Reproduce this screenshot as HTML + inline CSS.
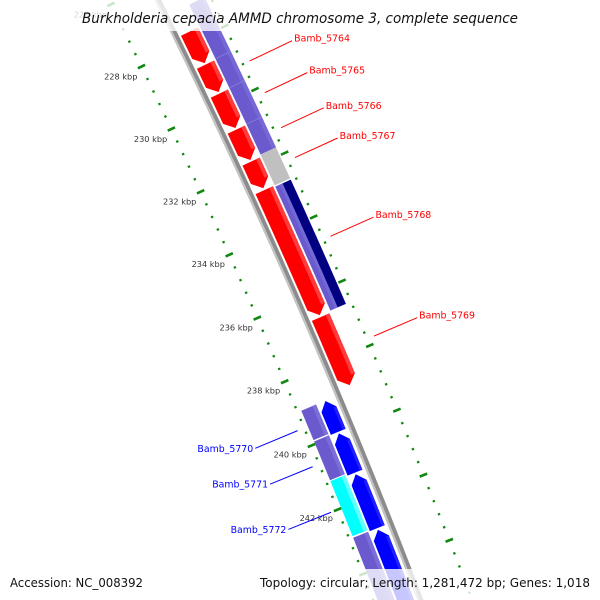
<!DOCTYPE html>
<html><head><meta charset="utf-8"><style>
html,body{margin:0;padding:0;background:#fff;width:600px;height:600px;overflow:hidden;}
svg{display:block;overflow:hidden;font-family:"DejaVu Sans","Liberation Sans",sans-serif;}
</style></head><body>
<svg id="map" width="600" height="600" viewBox="0 0 600 600" xmlns="http://www.w3.org/2000/svg">
<rect width="600" height="600" fill="#fff"/>
<g id="ticks"></g>
<g id="backbone"></g>
<g id="features"></g>
<g id="labels"></g>
<rect x="0" y="0" width="600" height="31" fill="#fff" fill-opacity="0.78"/>
<rect x="0" y="569" width="600" height="31" fill="#fff" fill-opacity="0.78"/>
<text x="82" y="23" font-size="14" font-style="italic" fill="#111" textLength="436" lengthAdjust="spacingAndGlyphs">Burkholderia cepacia AMMD chromosome 3, complete sequence</text>
<text x="10" y="587" font-size="12" fill="#111" textLength="133" lengthAdjust="spacingAndGlyphs">Accession: NC_008392</text>
<text x="260" y="587" font-size="12" fill="#111" textLength="330" lengthAdjust="spacingAndGlyphs">Topology: circular; Length: 1,281,472 bp; Genes: 1,018</text>
</svg>
<script>
// data
const tickLabelKbp=[226,228,230,232,234,236,238,240,242];
const fwdStart=[227.70,228.75,229.67,230.81,231.82,232.72,236.70];
const fwdEnd=[228.70,229.62,230.76,231.77,232.66,236.64,238.82];
const outer2Start=[227.0,231.75,232.76];
const outer2End=[231.75,232.72,236.64];
const outer2Type=['purple','gray','split'];
const outer2Seams=[228.72,229.64,230.79];
const revStart=[238.97,239.98,241.25,242.97];
const revEnd=[239.93,241.20,242.92,246.5];
const inner2Start=[238.96,239.92,241.16,242.92];
const inner2End=[239.88,241.13,242.87,246.5];
const inner2Color=['#6a5acd','#6a5acd','#00ffff','#6a5acd'];
const outerLabelNames=['Bamb_5764','Bamb_5765','Bamb_5766','Bamb_5767','Bamb_5768','Bamb_5769'];
const outerLabelKbp=[229.2,230.2,231.3,232.24,234.7,237.8];
const innerLabelNames=['Bamb_5770','Bamb_5771','Bamb_5772'];
const innerLabelKbp=[239.45,240.58,242.0];

const NS='http://www.w3.org/2000/svg';
const CX=-6212.5,CY=3144,R=7104,TH0=66.405,DEG=0.280930;
function pt(k,r){const t=(TH0+(k-236)*DEG)*Math.PI/180;return [CX+(R+r)*Math.sin(t),CY-(R+r)*Math.cos(t)];}
function mk(tag,attrs,parent){const e=document.createElementNS(NS,tag);for(const a in attrs)e.setAttribute(a,attrs[a]);parent.appendChild(e);return e;}
function arcPts(k0,k1,r){const n=Math.max(2,Math.ceil((k1-k0)/0.1));const a=[];for(let i=0;i<=n;i++)a.push(pt(k0+(k1-k0)*i/n,r));return a;}
function band(k0,k1,r0,r1){return arcPts(k0,k1,r1).concat(arcPts(k0,k1,r0).reverse());}
function ps(a){return a.map(p=>p[0].toFixed(2)+','+p[1].toFixed(2)).join(' ');}
const HEAD=0.26;
function fwdArrow(k0,k1,r0,r1){const rm=(r0+r1)/2;return arcPts(k0,k1-HEAD,r1).concat([pt(k1,rm)]).concat(arcPts(k0,k1-HEAD,r0).reverse());}
function revArrow(k0,k1,r0,r1){const rm=(r0+r1)/2;return [pt(k0,rm)].concat(arcPts(k0+HEAD,k1,r1)).concat(arcPts(k0+HEAD,k1,r0).reverse());}

// ticks
const tg=document.getElementById('ticks');
for(let i=0;i<=55;i++){
  const k=225.2+i*0.4;const kk=Math.round(k*10)/10;
  const major=Math.abs(kk/2-Math.round(kk/2))<0.01;
  [-44,48.5].forEach(rr=>{
    const h=major?4:1.2;const a=pt(kk,rr-h),b=pt(kk,rr+h);
    const l=mk('line',{x1:a[0],y1:a[1],x2:b[0],y2:b[1],stroke:'#118811','stroke-width':major?2.6:2.2},tg);
    
    
  });
}
tickLabelKbp.forEach(k=>{
  const p=pt(k,-67);
  const t=mk('text',{x:p[0],y:p[1]+3,'font-size':'8.2','text-anchor':'middle',fill:'#333'},tg);
  t.textContent=k+' kbp';
  
  
});

// backbone
const bg=document.getElementById('backbone');
const bb=mk('polygon',{points:ps(band(224,247,-3,3)),fill:'#8c8c8c'},bg);


const bb2=mk('polygon',{points:ps(band(224,247,-3,-0.8)),fill:'#c4c4c4'},bg);



// features
const fg=document.getElementById('features');
function poly(pts,fill,name){const e=mk('polygon',{points:ps(pts),fill:fill},fg);return e;}
for(let i=0;i<outer2Start.length;i++){
  const k0=outer2Start[i],k1=outer2End[i];
  if(outer2Type[i]==='purple'){poly(band(k0,k1,26,43),'#6a5acd','outer-feature');poly(band(k0,k1,39,43),'#7569d6','outer-feature-highlight');}
  else if(outer2Type[i]==='gray'){poly(band(k0,k1,26,43),'#c0c0c0','outer-feature-gray');}
  else{poly(band(k0,k1,26,34),'#6a5acd','outer-feature-purple');poly(band(k0,k1,31,34),'#7569d6','outer-feature-highlight');poly(band(k0,k1,34,43),'#000080','outer-feature-navy');}
}
outer2Seams.forEach(k=>{const a=pt(k,26),b=pt(k,43);const l=mk('line',{x1:a[0],y1:a[1],x2:b[0],y2:b[1],stroke:'#8a80d8','stroke-width':0.8},fg);
  
  });
for(let i=0;i<fwdStart.length;i++){
  poly(fwdArrow(fwdStart[i],fwdEnd[i],5,24),'#ff0000','forward-gene-'+(5763+i));
  poly(band(fwdStart[i],fwdEnd[i]-HEAD,20,24),'#ff3c3c','forward-gene-highlight');
}
for(let i=0;i<revStart.length;i++){
  poly(revArrow(revStart[i],revEnd[i],-22,-6),'#0000ff','reverse-gene');
  poly(band(revStart[i]+HEAD,revEnd[i],-9,-6),'#2020ff','reverse-gene-highlight');
}
for(let i=0;i<inner2Start.length;i++){
  poly(band(inner2Start[i],inner2End[i],-40,-24),inner2Color[i],'inner-feature');
  poly(band(inner2Start[i],inner2End[i],-28,-24),inner2Color[i]==='#00ffff'?'#5fffff':'#7a6ed8','inner-feature-highlight');
}

// labels
const lg=document.getElementById('labels');
outerLabelNames.forEach((n,i)=>{
  const a=pt(outerLabelKbp[i],56),b=pt(outerLabelKbp[i],103);
  const l=mk('line',{x1:a[0],y1:a[1],x2:b[0],y2:b[1],stroke:'#ff0000','stroke-width':1},lg);
  
  
  const t=mk('text',{x:b[0]+2,y:b[1]+1,'font-size':'9.4',fill:'#ff0000'},lg);
  t.textContent=n;
  
  
});
innerLabelNames.forEach((n,i)=>{
  const a=pt(innerLabelKbp[i],-51),b=pt(innerLabelKbp[i],-97);
  const l=mk('line',{x1:a[0],y1:a[1],x2:b[0],y2:b[1],stroke:'#0000ff','stroke-width':1},lg);
  
  
  const t=mk('text',{x:b[0]-2,y:b[1]+3.5,'font-size':'9.4','text-anchor':'end',fill:'#0000ff'},lg);
  t.textContent=n;
  
  
});
</script>
</body></html>
